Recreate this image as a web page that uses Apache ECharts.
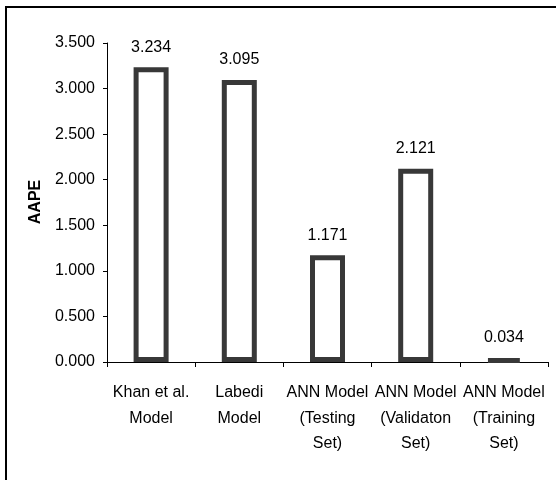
<!DOCTYPE html>
<html>
<head>
<meta charset="utf-8">
<script src="https://cdn.jsdelivr.net/npm/echarts@6/dist/echarts.min.js"></script>
<style>
  html, body { margin: 0; padding: 0; background: #fff; }
  #chart { width: 556px; height: 480px; }
</style>
</head>
<body>
<div id="chart"></div>
<script>
// Average absolute percent error for each correlation / model
const categories = [
  'Khan et al.\nModel',
  'Labedi\nModel',
  'ANN Model\n(Testing\nSet)',
  'ANN Model\n(Validaton\nSet)',
  'ANN Model\n(Training\nSet)'
];
const aapeValues = [3.234, 3.095, 1.171, 2.121, 0.034];
const yTicks = { min: 0, max: 3.5, step: 0.5 };
const yTitle = 'AAPE';

const FONT = '"Liberation Sans", Arial, sans-serif';

const chart = echarts.init(document.getElementById('chart'), null, { renderer: 'canvas' });

chart.setOption({
  animation: false,
  backgroundColor: '#ffffff',
  grid: { left: 107, right: 8, top: 43, bottom: 118, containLabel: false },
  xAxis: {
    type: 'category',
    data: categories,
    axisLine: { lineStyle: { color: '#000', width: 1 } },
    axisTick: { show: true, length: 5, alignWithLabel: false, lineStyle: { color: '#000' } },
    axisLabel: {
      interval: 0,
      margin: 18,
      color: '#000',
      fontFamily: FONT,
      fontSize: 16,
      lineHeight: 25.5
    }
  },
  yAxis: {
    type: 'value',
    min: yTicks.min,
    max: yTicks.max,
    interval: yTicks.step,
    axisLine: { show: true, lineStyle: { color: '#000', width: 1 } },
    axisTick: { show: true, length: 4, lineStyle: { color: '#000' } },
    splitLine: { show: false },
    axisLabel: {
      margin: 12,
      color: '#000',
      fontFamily: FONT,
      fontSize: 16,
      formatter: v => v.toFixed(3)
    }
  },
  series: [{
    type: 'bar',
    data: aapeValues,
    barWidth: 35,
    itemStyle: {
      color: '#ffffff',
      borderColor: '#383838',
      borderWidth: 5
    },
    label: {
      show: true,
      position: 'top',
      distance: 12,
      color: '#000',
      fontFamily: FONT,
      fontSize: 16,
      formatter: p => p.value.toFixed(3)
    }
  }],
  graphic: [
    {
      type: 'rect',
      shape: { x: 6, y: 7, width: 700, height: 700 },
      style: { fill: 'none', stroke: '#000', lineWidth: 2 },
      silent: true,
      z: -1
    },
    {
      type: 'text',
      x: 36,
      y: 202,
      rotation: Math.PI / 2,
      style: {
        text: yTitle,
        fill: '#000',
        font: 'bold 16px ' + FONT,
        textAlign: 'center',
        textVerticalAlign: 'middle'
      }
    }
  ]
});
</script>
</body>
</html>
